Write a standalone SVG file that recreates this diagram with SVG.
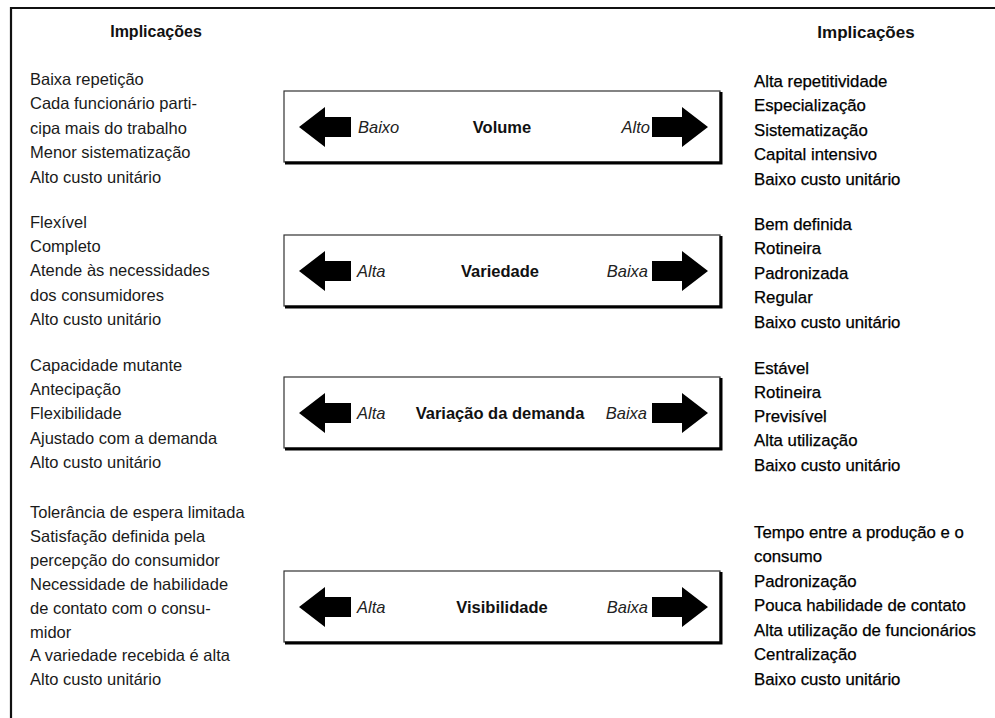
<svg xmlns="http://www.w3.org/2000/svg" xmlns:xlink="http://www.w3.org/1999/xlink" width="995" height="718" viewBox="0 0 995 718">
  <style>
    .frame { fill: none; stroke: #111; stroke-width: 2.2; }
    .box { fill: #fff; stroke: #333; stroke-width: 1.2; }
    .shadow { fill: none; stroke: #000; stroke-width: 3; }
    .arrow { fill: #000; }
    .head { font-family: "Liberation Sans", Arial, sans-serif; font-weight: bold; font-size: 16px; fill: #111; text-anchor: middle; }
    .lt { font-family: "Liberation Sans", Arial, sans-serif; font-size: 16.5px; fill: #1a1a1a; }
    .rt { font-family: "Liberation Sans", Arial, sans-serif; font-size: 16.8px; fill: #000; stroke: #000; stroke-width: 0.25; }
    .dim { font-family: "Liberation Sans", Arial, sans-serif; font-weight: bold; font-size: 16.5px; fill: #111; text-anchor: middle; }
    .pole { font-family: "Liberation Sans", Arial, sans-serif; font-style: italic; font-size: 16.5px; fill: #222; }
    .end { text-anchor: end; }
  </style>
  <defs>
    <path id="arrowL" class="arrow" d="M0,0 L26,-20 L26,-10 L52,-10 L52,10 L26,10 L26,20 Z"/>
    <path id="arrowR" class="arrow" d="M0,0 L-26,-20 L-26,-10 L-56,-10 L-56,10 L-26,10 L-26,20 Z"/>
  </defs>

  <rect width="995" height="718" fill="#fff"/>

  <!-- outer frame: top and left edges only -->
  <path class="frame" d="M995,8 L11,8 L11,718"/>

  <!-- column headings -->
  <text class="head" x="156" y="37">Implicações</text>
  <text class="head" x="866" y="38" style="font-size:17px">Implicações</text>

  <!-- Volume -->
  <g id="volume">
    <rect class="box" x="284" y="91" width="436" height="71"/>
    <path class="shadow" d="M721,92 L721,163 L285,163"/>
    <use xlink:href="#arrowL" x="299" y="127"/>
    <use xlink:href="#arrowR" x="708" y="127"/>
    <text class="pole" x="358" y="133">Baixo</text>
    <text class="dim" x="502" y="133">Volume</text>
    <text class="pole end" x="650" y="133">Alto</text>
  </g>
  <g id="volume-left" class="lt">
    <text x="30" y="85">Baixa repetição</text>
    <text x="30" y="109">Cada funcionário parti-</text>
    <text x="30" y="134">cipa mais do trabalho</text>
    <text x="30" y="158">Menor sistematização</text>
    <text x="30" y="183">Alto custo unitário</text>
  </g>
  <g id="volume-right" class="rt">
    <text x="754" y="87">Alta repetitividade</text>
    <text x="754" y="111">Especialização</text>
    <text x="754" y="136">Sistematização</text>
    <text x="754" y="160">Capital intensivo</text>
    <text x="754" y="185">Baixo custo unitário</text>
  </g>

  <!-- Variedade -->
  <g id="variedade">
    <rect class="box" x="284" y="235" width="436" height="71"/>
    <path class="shadow" d="M721,236 L721,307 L285,307"/>
    <use xlink:href="#arrowL" x="299" y="271"/>
    <use xlink:href="#arrowR" x="708" y="271"/>
    <text class="pole" x="357" y="277">Alta</text>
    <text class="dim" x="500" y="277">Variedade</text>
    <text class="pole end" x="648" y="277">Baixa</text>
  </g>
  <g id="variedade-left" class="lt">
    <text x="30" y="228">Flexível</text>
    <text x="30" y="252">Completo</text>
    <text x="30" y="276">Atende às necessidades</text>
    <text x="30" y="301">dos consumidores</text>
    <text x="30" y="325">Alto custo unitário</text>
  </g>
  <g id="variedade-right" class="rt">
    <text x="754" y="230">Bem definida</text>
    <text x="754" y="254">Rotineira</text>
    <text x="754" y="279">Padronizada</text>
    <text x="754" y="303">Regular</text>
    <text x="754" y="328">Baixo custo unitário</text>
  </g>

  <!-- Variação da demanda -->
  <g id="variacao">
    <rect class="box" x="284" y="377" width="436" height="71"/>
    <path class="shadow" d="M721,378 L721,449 L285,449"/>
    <use xlink:href="#arrowL" x="299" y="413"/>
    <use xlink:href="#arrowR" x="708" y="413"/>
    <text class="pole" x="357" y="419">Alta</text>
    <text class="dim" x="500" y="419">Variação da demanda</text>
    <text class="pole end" x="647" y="419">Baixa</text>
  </g>
  <g id="variacao-left" class="lt">
    <text x="30" y="371">Capacidade mutante</text>
    <text x="30" y="395">Antecipação</text>
    <text x="30" y="419">Flexibilidade</text>
    <text x="30" y="444">Ajustado com a demanda</text>
    <text x="30" y="468">Alto custo unitário</text>
  </g>
  <g id="variacao-right" class="rt">
    <text x="754" y="374">Estável</text>
    <text x="754" y="398">Rotineira</text>
    <text x="754" y="422">Previsível</text>
    <text x="754" y="446">Alta utilização</text>
    <text x="754" y="471">Baixo custo unitário</text>
  </g>

  <!-- Visibilidade -->
  <g id="visibilidade">
    <rect class="box" x="284" y="571" width="436" height="71"/>
    <path class="shadow" d="M721,572 L721,643 L285,643"/>
    <use xlink:href="#arrowL" x="299" y="607"/>
    <use xlink:href="#arrowR" x="708" y="607"/>
    <text class="pole" x="357" y="613">Alta</text>
    <text class="dim" x="502" y="613">Visibilidade</text>
    <text class="pole end" x="648" y="613">Baixa</text>
  </g>
  <g id="visibilidade-left" class="lt">
    <text x="30" y="518">Tolerância de espera limitada</text>
    <text x="30" y="542">Satisfação definida pela</text>
    <text x="30" y="566">percepção do consumidor</text>
    <text x="30" y="590">Necessidade de habilidade</text>
    <text x="30" y="614">de contato com o consu-</text>
    <text x="30" y="638">midor</text>
    <text x="30" y="661">A variedade recebida é alta</text>
    <text x="30" y="685">Alto custo unitário</text>
  </g>
  <g id="visibilidade-right" class="rt">
    <text x="754" y="538">Tempo entre a produção e o</text>
    <text x="754" y="562">consumo</text>
    <text x="754" y="587">Padronização</text>
    <text x="754" y="611">Pouca habilidade de contato</text>
    <text x="754" y="636">Alta utilização de funcionários</text>
    <text x="754" y="660">Centralização</text>
    <text x="754" y="685">Baixo custo unitário</text>
  </g>
</svg>
